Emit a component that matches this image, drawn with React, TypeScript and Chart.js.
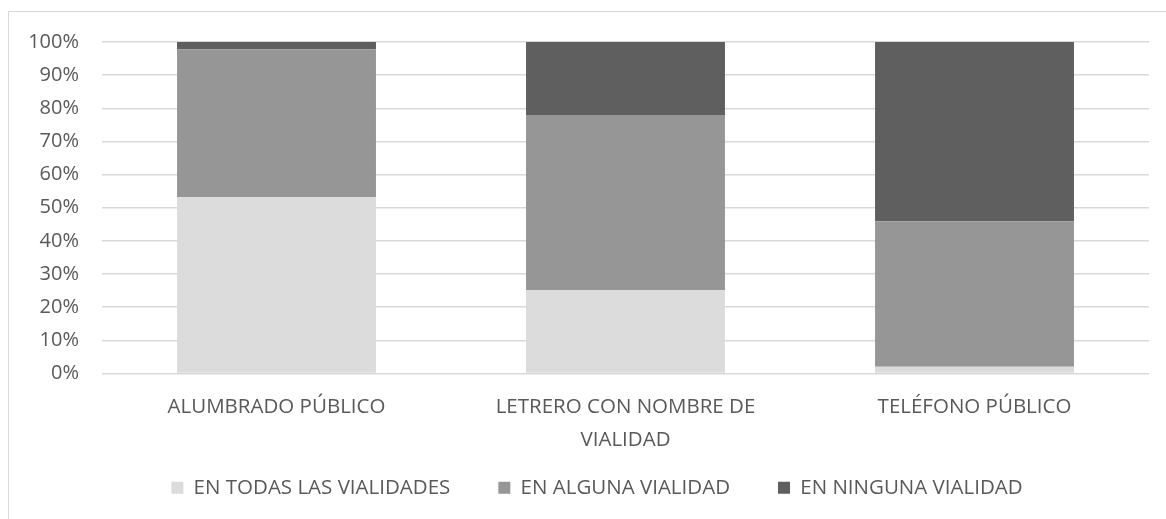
import React, { useEffect, useRef } from "react";
import { Chart, registerables } from "chart.js";

Chart.register(...registerables);

const categories: (string | string[])[] = [
  "ALUMBRADO PÚBLICO",
  ["LETRERO CON NOMBRE DE", "VIALIDAD"],
  "TELÉFONO PÚBLICO",
];
const seriesNames = ["EN TODAS LAS VIALIDADES", "EN ALGUNA VIALIDAD", "EN NINGUNA VIALIDAD"];
const enTodas = [53.2, 25.2, 2.0];
const enAlguna = [44.6, 52.8, 43.9];
const enNinguna = [2.2, 22.0, 54.1];
const seriesColors = ["#dcdcdc", "#969696", "#5f5f5f"];
const yTicks = [0, 10, 20, 30, 40, 50, 60, 70, 80, 90, 100];

const FONT = "'Open Sans', sans-serif";
const TEXT = "#595959";

// moves the legend closer to the axis labels and centres it like the reference
const legendShift = {
  id: "legendShift",
  afterLayout(chart: any) {
    const lg = chart.legend;
    if (lg) {
      lg.top -= 34;
      lg.bottom -= 34;
      lg.left += 18;
      lg.right += 18;
    }
  },
};

export default function App() {
  const ref = useRef<HTMLCanvasElement | null>(null);
  useEffect(() => {
    if (!ref.current) return;
    const values = [enTodas, enAlguna, enNinguna];
    const chart = new Chart(ref.current, {
      type: "bar",
      data: {
        labels: categories as any,
        datasets: seriesNames.map((name, i) => ({
          label: name,
          data: values[i],
          backgroundColor: seriesColors[i],
          borderWidth: 0,
          barPercentage: 0.57,
          categoryPercentage: 1,
        })),
      },
      plugins: [legendShift],
      options: {
        animation: false,
        responsive: false,
        maintainAspectRatio: false,
        devicePixelRatio: 1,
        layout: { padding: { top: 24, right: 17, left: 0, bottom: 0 } },
        plugins: {
          tooltip: { enabled: false },
          legend: {
            position: "bottom",
            labels: {
              boxWidth: 12,
              boxHeight: 12,
              padding: 48,
              color: TEXT,
              font: { family: FONT, size: 20.5 },
            },
          },
        },
        scales: {
          x: {
            stacked: true,
            grid: { display: false },
            border: { display: false },
            ticks: {
              color: TEXT,
              font: { family: FONT, size: 20.5, lineHeight: 1.62 },
              padding: 9,
              maxRotation: 0,
              autoSkip: false,
            },
            afterFit: (s: any) => {
              s.height = 90;
            },
          },
          y: {
            stacked: true,
            min: 0,
            max: 100,
            afterBuildTicks: (s: any) => {
              s.ticks = yTicks.map((v) => ({ value: v }));
            },
            grid: { color: "#d9d9d9", lineWidth: 1.5, drawTicks: false },
            border: { display: false },
            ticks: {
              color: TEXT,
              font: { family: FONT, size: 20 },
              padding: 23,
              callback: (v: any) => v + "%",
            },
            afterFit: (s: any) => {
              s.width = 93;
            },
          },
        },
      },
    });
    return () => chart.destroy();
  }, []);

  return (
    <div
      style={{
        position: "absolute",
        left: 8,
        top: 11,
        width: 1158,
        height: 508,
        overflow: "hidden",
        borderTop: "1px solid #d9d9d9",
        borderLeft: "1px solid #d9d9d9",
        boxSizing: "border-box",
        background: "#fff",
      }}
    >
      <canvas
        ref={ref}
        width={1157}
        height={535}
        style={{ display: "block", width: 1157, height: 535, marginTop: -5 }}
      />
    </div>
  );
}
